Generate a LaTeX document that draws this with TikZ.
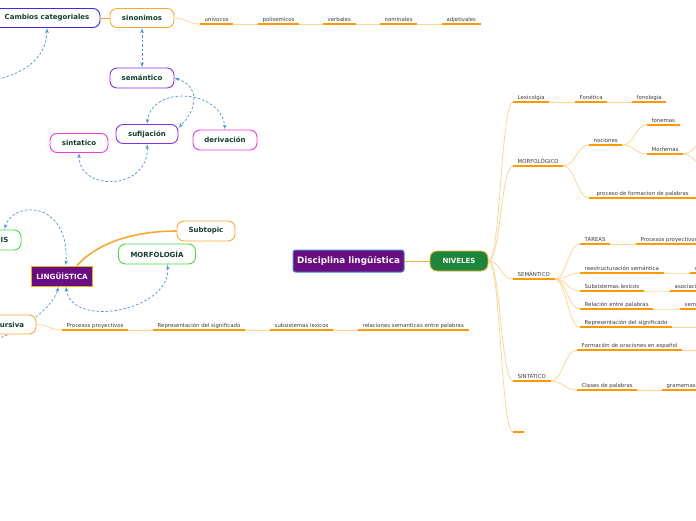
\documentclass[tikz,border=0pt]{standalone}
\usepackage{fontspec}
\setmainfont{DejaVu Sans}
\usetikzlibrary{shapes,arrows,backgrounds}
\definecolor{nodetext}{RGB}{16,62,48}
\definecolor{leaftext}{RGB}{60,60,60}
\definecolor{uorange}{RGB}{255,153,0}
\definecolor{lorange}{RGB}{253,214,150}
\definecolor{borange}{RGB}{247,170,50}
\definecolor{linkblue}{RGB}{74,144,226}
\definecolor{cblue}{RGB}{60,40,240}
\definecolor{cviolet}{RGB}{130,50,235}
\definecolor{cmagenta}{RGB}{240,60,210}
\definecolor{cgreen}{RGB}{70,220,60}
\definecolor{cpurple}{RGB}{106,13,131}
\definecolor{cgold}{RGB}{230,180,20}
\definecolor{cframe}{RGB}{60,140,210}
\definecolor{cdarkgreen}{RGB}{28,135,58}
\newcommand{\bubblefont}{\fontsize{7}{8}\selectfont\bfseries}
\newcommand{\leaffont}{\fontsize{5.4}{6}\selectfont}
\tikzstyle{bubble} = [rectangle, draw, line width=0.9pt, fill=white, rounded corners=7pt,
    minimum height=19pt, font=\bubblefont, text=nodetext, inner sep=2pt]
\tikzstyle{leaf} = [anchor=south west, inner xsep=4.5pt, inner ysep=1.5pt,
    text height=4pt, text depth=1.2pt, font=\leaffont, text=leaftext]
\tikzstyle{uline} = [draw=uorange, line width=1.3pt]
\tikzstyle{branch} = [draw=lorange, line width=0.8pt]
\tikzstyle{line} = [draw=borange, line width=1pt]
\tikzstyle{link} = [draw=linkblue, line width=0.7pt, dash pattern=on 2.5pt off 2pt, latex'-latex']

\begin{document}
\begin{tikzpicture}[x=1pt, y=-1pt]
		\useasboundingbox (0,0) rectangle (696,520);
		% bubbles
		\node [bubble, draw=cblue, minimum width=106pt] (cambios) at (47,18) {Cambios categoriales};
		\node [bubble, draw=borange, minimum width=64pt] (sinonimos) at (142,18) {sinonimos};
		\node [bubble, draw=cviolet, minimum width=64pt, minimum height=20pt] (semantico) at (142,78) {semántico};
		\node [bubble, draw=cviolet, minimum width=62pt] (sufijacion) at (147,134) {sufijación};
		\node [bubble, draw=cmagenta, minimum width=64pt, minimum height=20pt] (derivacion) at (225,140) {derivación};
		\node [bubble, draw=cmagenta, minimum width=58pt] (sintatico) at (79,143) {sintatico};
		\node [bubble, draw=cgreen, minimum width=33pt, minimum height=20pt] (sintaxis) at (4.5,240) {IS};
		\node [rectangle, draw=cgold, line width=1pt, fill=cpurple, text=white, font=\fontsize{7.2}{8}\selectfont\bfseries,
			minimum width=61pt, minimum height=20pt] (ling) at (62,276) {LINGÜÍSTICA};
		\node [bubble, draw=borange, minimum width=58pt, minimum height=20pt] (subtopic) at (206,231) {Subtopic};
		\node [bubble, draw=cgreen, minimum width=77pt, minimum height=20pt] (morfologia) at (157,254) {MORFOLOGÍA};
		\node [bubble, draw=borange, minimum width=48pt] (discursiva) at (12,324.5) {ursiva};
		\node [rectangle, draw=cframe, line width=1pt, rounded corners=2.5pt, fill=cpurple, text=white,
			font=\fontsize{8.8}{10}\selectfont\bfseries, minimum width=111pt, minimum height=22pt] (disciplina) at (348.5,261) {Disciplina lingüística};
		\node [bubble, draw=borange, fill=cdarkgreen, text=white, minimum width=58pt, minimum height=20pt] (niveles) at (459,261) {NIVELES};
		
		% leaves of sinonimos
		\node [leaf] (univocos) at (200,24) {univocos};
		\node [leaf] (polisemicos) at (258,24) {polisemicos};
		\node [leaf] (verbales) at (323,24) {verbales};
		\node [leaf] (nominales) at (380,24) {nominales};
		\node [leaf] (adjetivales) at (442,24) {adjetivales};
		% leaves of discursiva
		\node [leaf] (procesos) at (62,330) {Procesos proyectivos};
		\node [leaf] (represent) at (153,330) {Representación del significado};
		\node [leaf] (subsistemas) at (270,330) {subsistemas lexicos};
		\node [leaf] (relaciones) at (358,330) {relaciones semanticas entre palabras};
		% leaves of niveles
		\node [leaf] (lexicolgia) at (513,102) {Lexicolgia};
		\node [leaf] (fonetica) at (575,102) {Fonética};
		\node [leaf] (fonologia) at (632,102) {fonología};
		\node [leaf] (morfologico) at (513,166) {MORFOLÓGICO};
		\node [leaf] (nociones) at (589,145) {nociones};
		\node [leaf] (fonemas) at (647,125) {fonemas};
		\node [leaf] (morfemas) at (647,154) {Morfemas};
		\node [leaf, minimum width=107pt] (proceso) at (589,198) {proceso de formacion de palabras};
		\node [leaf] (semantico2) at (513,279) {SEMÁNTICO};
		\node [leaf] (tareas) at (580,244) {TAREAS};
		\node [leaf] (proyectivos) at (636,244) {Procesos proyectivos};
		\node [leaf] (reestructuracion) at (580,273) {reestructuración semántica};
		\node [leaf] (reestr2) at (690,273) {s};
		\node [leaf] (subsis) at (580,291) {Subsistemas lexicos};
		\node [leaf] (asociaci) at (670,291) {asociaci};
		\node [leaf] (relacion) at (580,309) {Relación entre palabras};
		\node [leaf] (sema) at (680,309) {sema};
		\node [leaf] (representacion) at (580,327) {Representación del significado};
		\node [leaf] (sintatico2) at (513,381) {SINTATICO};
		\node [leaf] (formacion) at (577,350) {Formación de oraciones en español};
		\node [leaf] (clases) at (577,390) {Clases de palabras};
		\node [leaf] (gramemas) at (662,390) {gramemas};
		\node [leaf, minimum width=11pt] (vacio) at (513,432) {};
		
		% ends running off the page
		\coordinate (morfemas a) at (712,136);
		\coordinate (morfemas b) at (712,172);
		\coordinate (formacion a) at (710,350);
		\coordinate (representacion a) at (710,327);
		\coordinate (cambios a) at (-20,82);
		\coordinate (discursiva a) at (-12,341);
		
		\path [line] (cambios) -- (sinonimos);
		\path [line] (disciplina) -- (niveles);
		\path [line, line width=1.6pt] (ling.35) .. controls (100,240) and (140,231) .. (subtopic.west);
		
		\path [branch] (sinonimos.east) .. controls +(12,0) and +(-12,0) .. (univocos.south west);
		\path [branch] (discursiva.east) .. controls +(12,0) and +(-12,0) .. (procesos.south west);
		\foreach \b in {lexicolgia,morfologico,semantico2,sintatico2,vacio}
			\path [branch] (niveles.east) .. controls +(12,0) and +(-12,0) .. (\b.south west);
		\foreach \a/\b in {univocos/polisemicos,polisemicos/verbales,verbales/nominales,nominales/adjetivales,
			procesos/represent,represent/subsistemas,subsistemas/relaciones,
			lexicolgia/fonetica,fonetica/fonologia,morfologico/nociones,morfologico/proceso,
			nociones/fonemas,nociones/morfemas,semantico2/tareas,tareas/proyectivos,
			semantico2/reestructuracion,reestructuracion/reestr2,semantico2/subsis,subsis/asociaci,
			semantico2/relacion,relacion/sema,semantico2/representacion,
			sintatico2/formacion,sintatico2/clases,clases/gramemas}
			\path [branch] (\a.south east) .. controls +(12,0) and +(-12,0) .. (\b.south west);
		\path [branch] (morfemas.south east) .. controls +(12,0) and +(-12,0) .. (morfemas a);
		\path [branch] (morfemas.south east) .. controls +(12,0) and +(-12,0) .. (morfemas b);
		\path [branch] (formacion.south east) -- (formacion a);
		\path [branch] (representacion.south east) -- (representacion a);
		
		\foreach \n in {univocos,polisemicos,verbales,nominales,adjetivales,procesos,represent,subsistemas,relaciones,
			lexicolgia,fonetica,fonologia,morfologico,nociones,fonemas,morfemas,proceso,semantico2,tareas,proyectivos,
			reestructuracion,reestr2,subsis,asociaci,relacion,sema,representacion,sintatico2,formacion,clases,gramemas,vacio}
			\draw [uline] (\n.south west) -- (\n.south east);
		
		% dashed relations
		\path [link] (sinonimos) -- (semantico);
		\path [link] (semantico.east) .. controls +(25,8) and +(20,-20) .. (sufijacion.11);
		\path [link] (sufijacion.north) .. controls (152,84) and (222,90) .. (derivacion.north);
		\path [link] (sintatico.south) .. controls (79,193) and (150,190) .. (sufijacion.south);
		\path [link, -latex'] (cambios a) .. controls (20,78) and (47,60) .. (cambios.south);
		\path [link] (sintaxis.north) .. controls (12,200) and (70,200) .. (ling.70);
		\path [link] (ling.-70) .. controls (72,330) and (172,310) .. (morfologia.-45);
		\begin{pgfonlayer}{background}
			\path [link, -latex'] (discursiva a) .. controls (20,335) and (55,305) .. (ling.-110);
		\end{pgfonlayer}
	\end{tikzpicture}
\end{document}
